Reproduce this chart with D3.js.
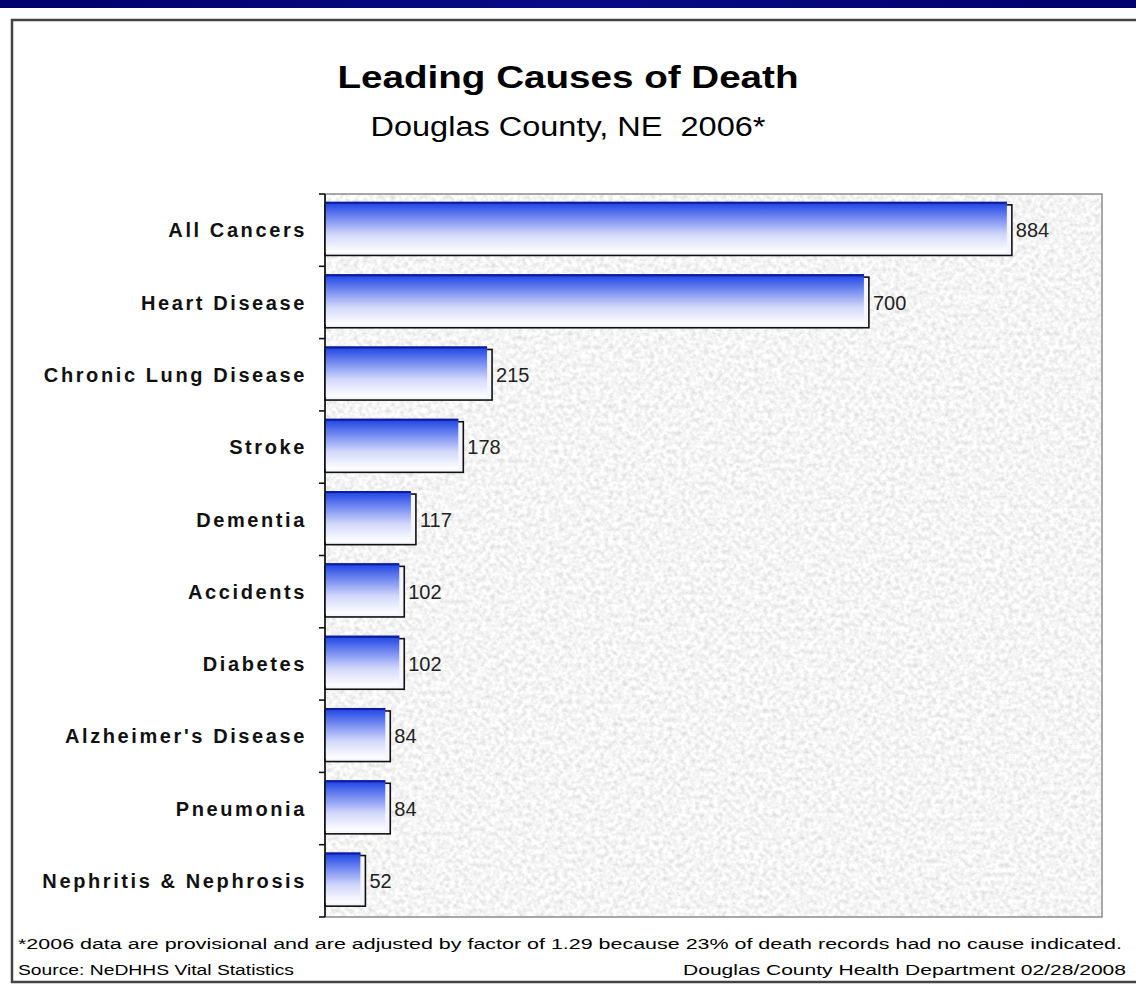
<!DOCTYPE html>
<html>
<head>
<meta charset="utf-8">
<script src="https://cdn.jsdelivr.net/npm/d3@7"></script>
<style>
  html, body { margin: 0; padding: 0; background: #fff; }
  svg { display: block; font-family: "Liberation Sans", Arial, sans-serif; }
</style>
</head>
<body>
<svg id="chart" width="1136" height="988"></svg>
<script>
// data
var causes = ["All Cancers", "Heart Disease", "Chronic Lung Disease", "Stroke", "Dementia",
              "Accidents", "Diabetes", "Alzheimer's Disease", "Pneumonia", "Nephritis & Nephrosis"];
var deaths = [884, 700, 215, 178, 117, 102, 102, 84, 84, 52];
var titleText = "Leading Causes of Death";
var subtitleText = "Douglas County, NE  2006*";
var footNote = "*2006 data are provisional and are adjusted by factor of 1.29 because 23% of death records had no cause indicated.";
var sourceText = "Source: NeDHHS Vital Statistics";
var creditText = "Douglas County Health Department 02/28/2008";

var svg = d3.select("#chart");
var W = 1136, H = 988;
var plot = {left: 325, right: 1102, top: 194, bottom: 917};

var defs = svg.append("defs");

// bar gradient, dark blue on top fading to white
var grad = defs.append("linearGradient")
    .attr("id", "barGrad")
    .attr("x1", 0).attr("y1", 0).attr("x2", 0).attr("y2", 1);
grad.append("stop").attr("offset", "0%").attr("stop-color", "#1430c8");
grad.append("stop").attr("offset", "6%").attr("stop-color", "#2a4ee6");
grad.append("stop").attr("offset", "30%").attr("stop-color", "#6f86f0");
grad.append("stop").attr("offset", "65%").attr("stop-color", "#d2d8fa");
grad.append("stop").attr("offset", "100%").attr("stop-color", "#ffffff");

// granite-like texture for the plot area
var noise = defs.append("filter").attr("id", "granite")
    .attr("x", 0).attr("y", 0).attr("width", 1).attr("height", 1);
noise.append("feTurbulence")
    .attr("type", "fractalNoise")
    .attr("baseFrequency", "0.22")
    .attr("numOctaves", 3)
    .attr("seed", 7)
    .attr("result", "t");
noise.append("feColorMatrix")
    .attr("in", "t")
    .attr("type", "matrix")
    .attr("values", "0.5 0 0 0 0.66  0.5 0 0 0 0.66  0.5 0 0 0 0.66  0 0 0 0 1");

// top navy strip
var band = defs.append("linearGradient").attr("id", "navy")
    .attr("x1", 0).attr("x2", 1).attr("y1", 0).attr("y2", 0);
band.append("stop").attr("offset", "0%").attr("stop-color", "#00006a");
band.append("stop").attr("offset", "50%").attr("stop-color", "#0a0a86");
band.append("stop").attr("offset", "100%").attr("stop-color", "#00006a");
svg.append("rect").attr("x", 0).attr("y", 0).attr("width", W).attr("height", 8)
    .attr("fill", "url(#navy)");

// outer frame
svg.append("rect")
    .attr("x", 12).attr("y", 20)
    .attr("width", W).attr("height", 962)
    .attr("fill", "#fff")
    .attr("stroke", "#444")
    .attr("stroke-width", 2.5);

// titles
svg.append("text")
    .attr("x", 568).attr("y", 88)
    .attr("text-anchor", "middle")
    .attr("font-weight", "bold")
    .attr("font-size", 31)
    .attr("textLength", 461).attr("lengthAdjust", "spacingAndGlyphs")
    .text(titleText);
svg.append("text")
    .attr("x", 568).attr("y", 136)
    .attr("text-anchor", "middle")
    .attr("font-size", 27)
    .style("white-space", "pre")
    .attr("textLength", 395).attr("lengthAdjust", "spacingAndGlyphs")
    .text(subtitleText);

// scales
var x = d3.scaleLinear().domain([0, 1000]).range([plot.left, plot.right]);
var y = d3.scaleBand().domain(causes).range([plot.top, plot.bottom])
    .paddingInner(0.3).paddingOuter(0.15);

// plot background
svg.append("rect")
    .attr("x", plot.left).attr("y", plot.top)
    .attr("width", plot.right - plot.left).attr("height", plot.bottom - plot.top)
    .attr("filter", "url(#granite)");
svg.append("rect")
    .attr("x", plot.left).attr("y", plot.top)
    .attr("width", plot.right - plot.left).attr("height", plot.bottom - plot.top)
    .attr("fill", "none")
    .attr("stroke", "#8c8c8c")
    .attr("stroke-width", 1.5);

var rows = causes.map(function(c, i){ return {cause: c, value: deaths[i]}; });

// bars: outline box plus gradient face nudged up and left
var bars = svg.append("g").selectAll("g")
    .data(rows)
    .enter()
    .append("g");

bars.append("rect")
    .attr("x", x(0))
    .attr("y", function(d){ return y(d.cause); })
    .attr("width", function(d){ return x(d.value) - x(0); })
    .attr("height", y.bandwidth())
    .attr("fill", "#f4f5fd")
    .attr("stroke", "#111")
    .attr("stroke-width", 1.6);

bars.append("rect")
    .attr("x", x(0))
    .attr("y", function(d){ return y(d.cause) - 3; })
    .attr("width", function(d){ return Math.max(0, x(d.value) - x(0) - 5); })
    .attr("height", y.bandwidth())
    .attr("fill", "url(#barGrad)");

bars.append("line")
    .attr("x1", x(0))
    .attr("x2", function(d){ return x(d.value) - 5; })
    .attr("y1", function(d){ return y(d.cause) - 2; })
    .attr("y2", function(d){ return y(d.cause) - 2; })
    .attr("stroke", "#0c1c9c")
    .attr("stroke-width", 2);

// value labels
bars.append("text")
    .attr("x", function(d){ return x(d.value) + 4; })
    .attr("y", function(d){ return y(d.cause) + y.bandwidth() / 2; })
    .attr("dy", "0.36em")
    .attr("font-size", 20)
    .attr("fill", "#222")
    .text(function(d){ return d.value; });

// category axis
var bounds = d3.range(causes.length + 1).map(function(i){ return plot.top + i * (plot.bottom - plot.top) / causes.length; });
var axis = svg.append("g");
axis.append("line")
    .attr("x1", plot.left).attr("x2", plot.left)
    .attr("y1", plot.top).attr("y2", plot.bottom)
    .attr("stroke", "#111").attr("stroke-width", 1.6);
axis.selectAll("line.tick")
    .data(bounds)
    .enter()
    .append("line")
    .attr("class", "tick")
    .attr("x1", plot.left - 6).attr("x2", plot.left)
    .attr("y1", function(d){ return d; }).attr("y2", function(d){ return d; })
    .attr("stroke", "#111").attr("stroke-width", 1.6);

axis.selectAll("text")
    .data(causes)
    .enter()
    .append("text")
    .attr("x", 307)
    .attr("y", function(d){ return y(d) + y.bandwidth() / 2; })
    .attr("dy", "0.36em")
    .attr("text-anchor", "end")
    .attr("font-weight", "bold")
    .attr("font-size", 20)
    .attr("letter-spacing", 2.6)
    .attr("fill", "#111")
    .text(function(d){ return d; });

// footer
svg.append("text")
    .attr("x", 18).attr("y", 949)
    .attr("font-size", 14)
    .attr("textLength", 1104).attr("lengthAdjust", "spacingAndGlyphs")
    .text(footNote);
svg.append("text")
    .attr("x", 18).attr("y", 975)
    .attr("font-size", 14)
    .attr("textLength", 276).attr("lengthAdjust", "spacingAndGlyphs")
    .text(sourceText);
svg.append("text")
    .attr("x", 1126).attr("y", 975)
    .attr("text-anchor", "end")
    .attr("font-size", 14)
    .attr("textLength", 443).attr("lengthAdjust", "spacingAndGlyphs")
    .text(creditText);
</script>
</body>
</html>
